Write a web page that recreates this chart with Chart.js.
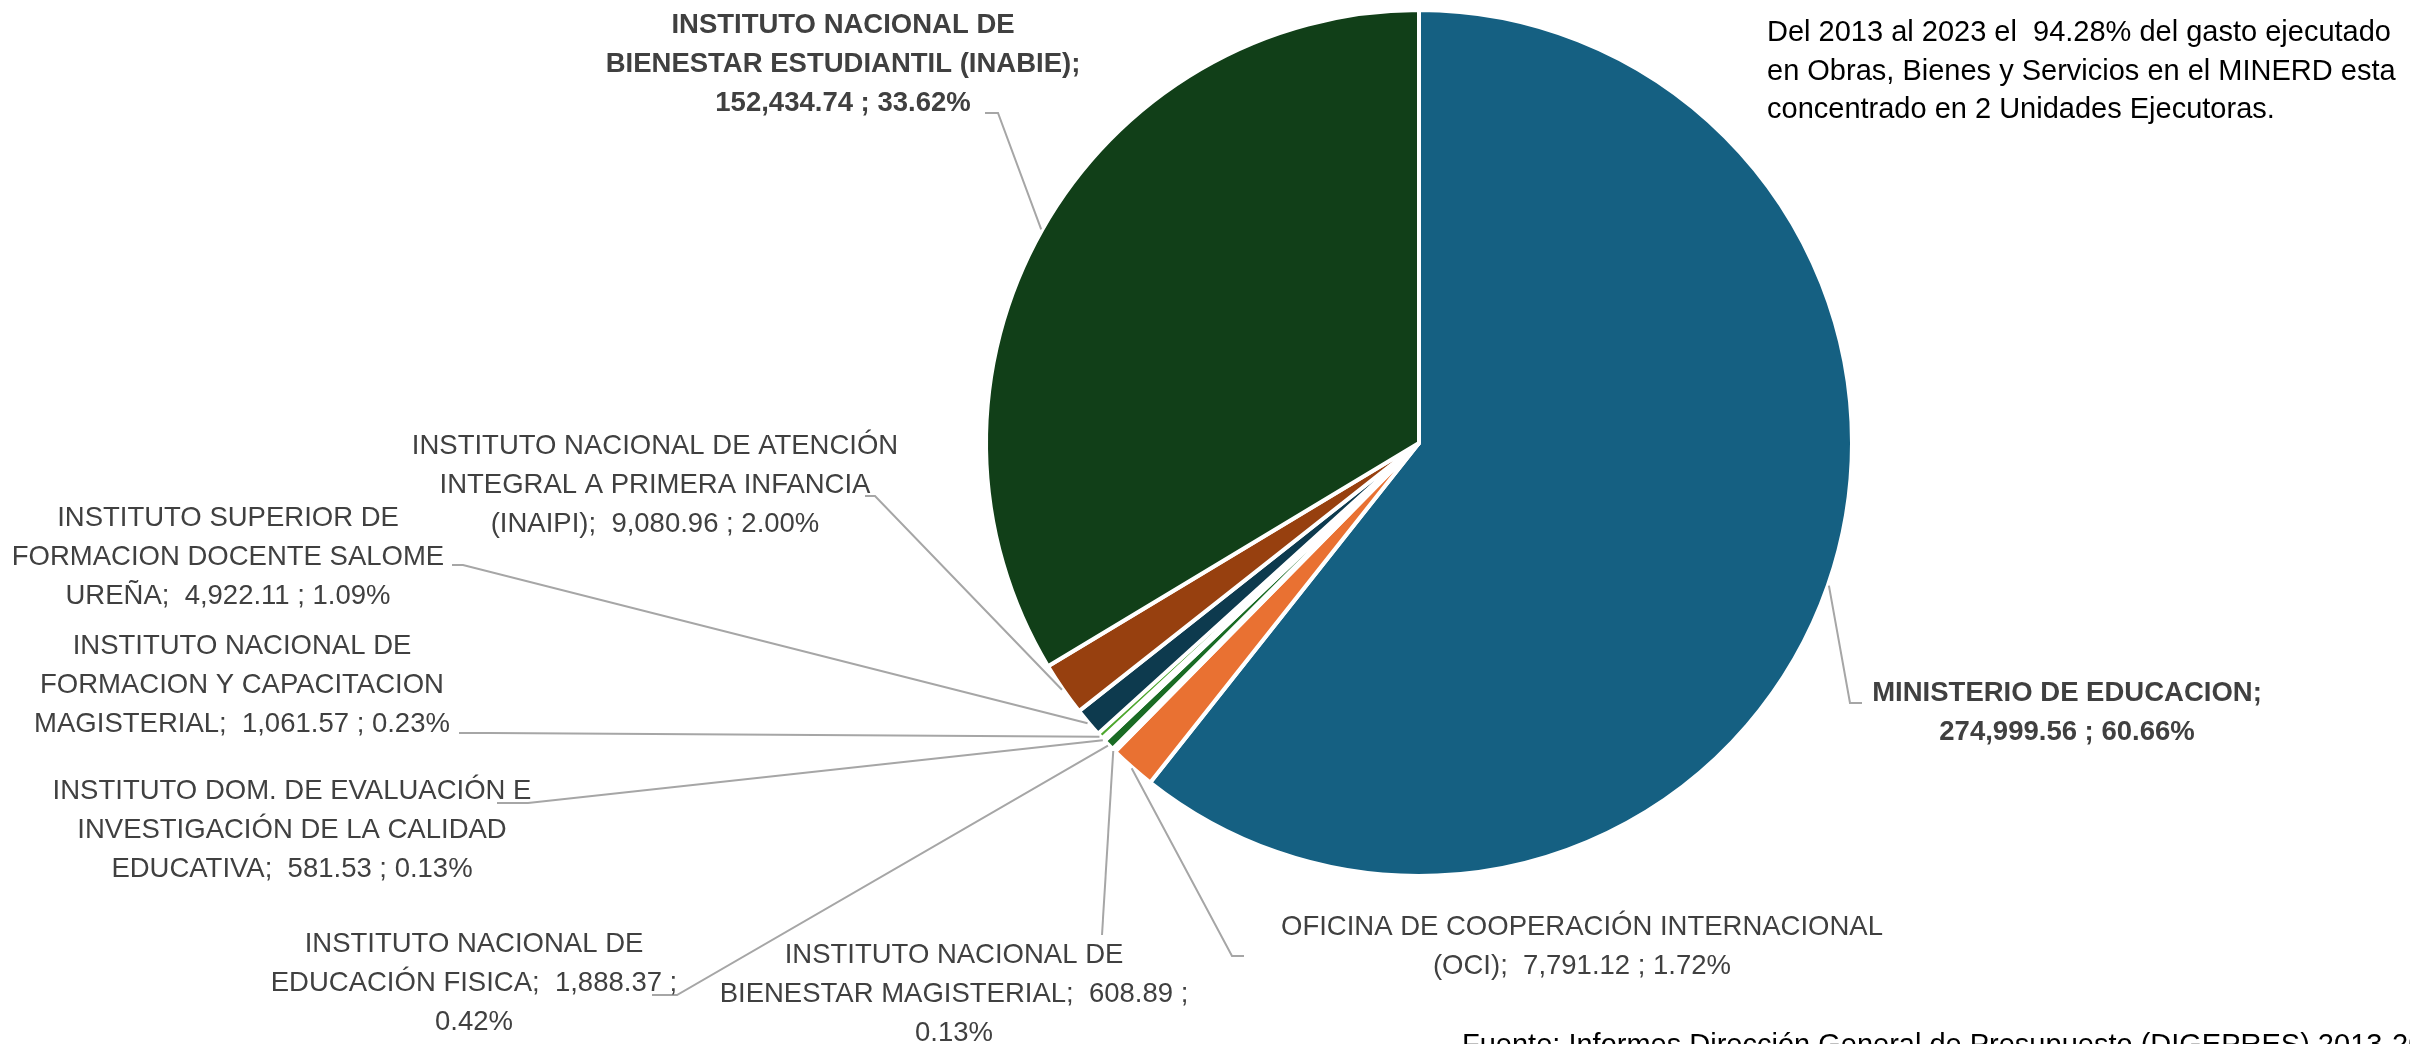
<!DOCTYPE html>
<html>
<head>
<meta charset="utf-8">
<script src="https://cdn.jsdelivr.net/npm/chart.js@4.4.1/dist/chart.umd.min.js"></script>
<style>
  html, body { margin: 0; padding: 0; background: #ffffff; overflow: hidden; }
  #wrap { position: relative; width: 2410px; height: 1044px; }
  canvas { display: block; }
</style>
</head>
<body>
<div id="wrap"><canvas id="chart" width="2410" height="1044"></canvas></div>
<script>
// ---------------- DATA ----------------
const categories = [
  "MINISTERIO DE EDUCACION",
  "OFICINA DE COOPERACIÓN INTERNACIONAL (OCI)",
  "INSTITUTO NACIONAL DE BIENESTAR MAGISTERIAL",
  "INSTITUTO NACIONAL DE EDUCACIÓN FISICA",
  "INSTITUTO DOM. DE EVALUACIÓN E INVESTIGACIÓN DE LA CALIDAD EDUCATIVA",
  "INSTITUTO NACIONAL DE FORMACION Y CAPACITACION MAGISTERIAL",
  "INSTITUTO SUPERIOR DE FORMACION DOCENTE SALOME UREÑA",
  "INSTITUTO NACIONAL DE ATENCIÓN INTEGRAL A PRIMERA INFANCIA (INAIPI)",
  "INSTITUTO NACIONAL DE BIENESTAR ESTUDIANTIL (INABIE)"
];
const values = [274999.56, 7791.12, 608.89, 1888.37, 581.53, 1061.57, 4922.11, 9080.96, 152434.74];
const sliceColors = ["#156082", "#E97132", "#0F9ED5", "#196B24", "#A02B93", "#4EA72E", "#0D3A4E", "#97400F", "#113F18"];
const noteLines = [
  "Del 2013 al 2023 el  94.28% del gasto ejecutado",
  "en Obras, Bienes y Servicios en el MINERD esta",
  "concentrado en 2 Unidades Ejecutoras."
];
const sourceText = "Fuente: Informes Dirección General de Presupuesto (DIGEPRES) 2013-2023";

// ---------------- LAYOUT (label placement, not data) ----------------
const labelPos = [
  { x: 2067, y: 713, wrap: 470, bold: true },
  { x: 1582, y: 947, wrap: 640 },
  { x: 954,  y: 994, wrap: 500 },
  { x: 474,  y: 983, wrap: 450 },
  { x: 292,  y: 830, wrap: 500 },
  { x: 242,  y: 685, wrap: 450 },
  { x: 228,  y: 557, wrap: 455 },
  { x: 655,  y: 485, wrap: 505 },
  { x: 843,  y: 64,  wrap: 505, bold: true }
];
const leaderPts = [
  [[1850, 703], [1862, 703]],
  [[1232, 956], [1244, 956]],
  [[1102, 935]],
  [[677, 995], [652, 995]],
  [[528, 803], [497, 803]],
  [[490, 733], [459, 733]],
  [[463, 565], [452, 565]],
  [[875, 496], [865, 496]],
  [[998, 113], [985, 113]]
];

const FONT = '"Liberation Sans", Arial, sans-serif';
const LABEL_SIZE = 27.5;
const LINE_H = 39;

const total = values.reduce((a, b) => a + b, 0);
const fmtVal = v => v.toLocaleString('en-US', { minimumFractionDigits: 2, maximumFractionDigits: 2 });
const fmtPct = v => (v / total * 100).toFixed(2) + '%';

function wrapText(ctx, text, maxW) {
  const words = text.split(' ');
  const lines = [];
  let cur = '';
  for (const w of words) {
    const test = cur === '' ? w : cur + ' ' + w;
    if (w !== '' && cur.trim() !== '' && ctx.measureText(test.trim()).width > maxW) {
      lines.push(cur.trim());
      cur = w;
    } else {
      cur = test;
    }
  }
  if (cur.trim() !== '') lines.push(cur.trim());
  return lines;
}

const labelPlugin = {
  id: 'pieLabels',
  afterDatasetsDraw(chart) {
    const ctx = chart.ctx;
    const meta = chart.getDatasetMeta(0);
    ctx.save();
    // leader lines
    ctx.strokeStyle = '#A6A6A6';
    ctx.lineWidth = 2;
    ctx.lineJoin = 'miter';
    meta.data.forEach((arc, i) => {
      const p = arc.getProps(['x', 'y', 'startAngle', 'endAngle', 'outerRadius'], true);
      const mid = (p.startAngle + p.endAngle) / 2;
      const r = p.outerRadius + 1;
      const sx = p.x + Math.cos(mid) * r;
      const sy = p.y + Math.sin(mid) * r;
      ctx.beginPath();
      ctx.moveTo(sx, sy);
      leaderPts[i].forEach(pt => ctx.lineTo(pt[0], pt[1]));
      ctx.stroke();
    });
    // labels
    ctx.fillStyle = '#404040';
    ctx.textAlign = 'center';
    ctx.textBaseline = 'middle';
    meta.data.forEach((arc, i) => {
      const L = labelPos[i];
      ctx.font = (L.bold ? 'bold ' : '') + LABEL_SIZE + 'px ' + FONT;
      const text = categories[i] + ';  ' + fmtVal(values[i]) + ' ; ' + fmtPct(values[i]);
      const lines = wrapText(ctx, text, L.wrap);
      const y0 = L.y - (lines.length - 1) * LINE_H / 2;
      lines.forEach((ln, k) => ctx.fillText(ln, L.x, y0 + k * LINE_H));
    });
    // note
    ctx.fillStyle = '#000000';
    ctx.textAlign = 'left';
    ctx.font = '29px ' + FONT;
    noteLines.forEach((ln, k) => ctx.fillText(ln, 1767, 33 + k * 38.5));
    // source
    ctx.textBaseline = 'alphabetic';
    ctx.font = '29px ' + FONT;
    ctx.fillText(sourceText, 1462, 1054);
    ctx.restore();
  }
};

new Chart(document.getElementById('chart'), {
  type: 'pie',
  data: {
    labels: categories,
    datasets: [{
      data: values,
      backgroundColor: sliceColors,
      borderColor: '#ffffff',
      borderWidth: 4
    }]
  },
  options: {
    responsive: false,
    animation: false,
    devicePixelRatio: 1,
    layout: { padding: { left: 984, right: 556, top: 8, bottom: 166 } },
    plugins: {
      legend: { display: false },
      tooltip: { enabled: false }
    }
  },
  plugins: [labelPlugin]
});
</script>
</body>
</html>
